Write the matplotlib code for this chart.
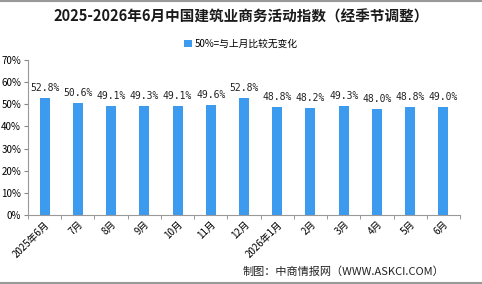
import matplotlib
matplotlib.use("Agg")
import matplotlib.pyplot as plt
from matplotlib.ticker import FuncFormatter, FixedLocator
from matplotlib.lines import Line2D

plt.rcParams['font.family'] = ['Noto Sans CJK SC', 'DejaVu Sans']

categories = ["2025年6月", "7月", "8月", "9月", "10月", "11月", "12月",
              "2026年1月", "2月", "3月", "4月", "5月", "6月"]
values = [52.8, 50.6, 49.1, 49.3, 49.1, 49.6, 52.8, 48.8, 48.2, 49.3, 48.0, 48.8, 49.0]
yticks = [0, 10, 20, 30, 40, 50, 60, 70]

title = "2025-2026年6月中国建筑业商务活动指数（经季节调整）"
legend_label = "50%=与上月比较无变化"
source = "制图：中商情报网（WWW.ASKCI.COM）"
bar_color = "#3C9BEE"

fig = plt.figure(figsize=(4.82, 2.84), dpi=100)
ax = fig.add_axes([28/482, 1-215/284, (460-28)/482, (215-60)/284])

x = list(range(len(categories)))
bars = ax.bar(x, values, width=0.3, color=bar_color, label=legend_label)
for xi, v in zip(x, values):
    ax.text(xi, v + 2.2, f"{v:.1f}%", ha='center', va='bottom', fontsize=7,
            color='#222222', family=['DejaVu Sans Mono'])

ax.set_xlim(-0.5, len(categories) - 0.5)
ax.set_ylim(0, 70)
ax.set_yticks(yticks)
ax.yaxis.set_major_formatter(FuncFormatter(lambda v, p: f"{v:.0f}%"))
ax.tick_params(axis='y', labelsize=7, length=3, color='#888888', pad=2)

ax.set_xticks(x)
ax.set_xticklabels(categories, rotation=45, ha='right', rotation_mode='anchor', fontsize=7)
ax.tick_params(axis='x', length=0, pad=3)
ax.xaxis.set_minor_locator(FixedLocator([i + 0.5 for i in range(-1, len(categories))]))
ax.tick_params(axis='x', which='minor', length=3, color='#888888')

for s in ['top', 'right']:
    ax.spines[s].set_visible(False)
for s in ['left', 'bottom']:
    ax.spines[s].set_color('#999999')
    ax.spines[s].set_linewidth(0.8)

fig.text(0.5, 1-17/284, title, ha='center', va='center', fontsize=10.5, fontweight='bold', color='#1a1a1a')
fig.legend(handles=[bars], labels=[legend_label], loc='center', bbox_to_anchor=(0.5, 1-44/284),
           frameon=False, fontsize=7, handlelength=0.8, handleheight=0.8, handletextpad=0.3)
fig.text(243/482, 1-272/284, source, ha='left', va='center', fontsize=8, color='#222222')

for yy in (0.003, 0.997):
    fig.add_artist(Line2D([0, 1], [yy, yy], transform=fig.transFigure, color='#999999', linewidth=1.5))

fig.savefig("out.png", dpi=100)
